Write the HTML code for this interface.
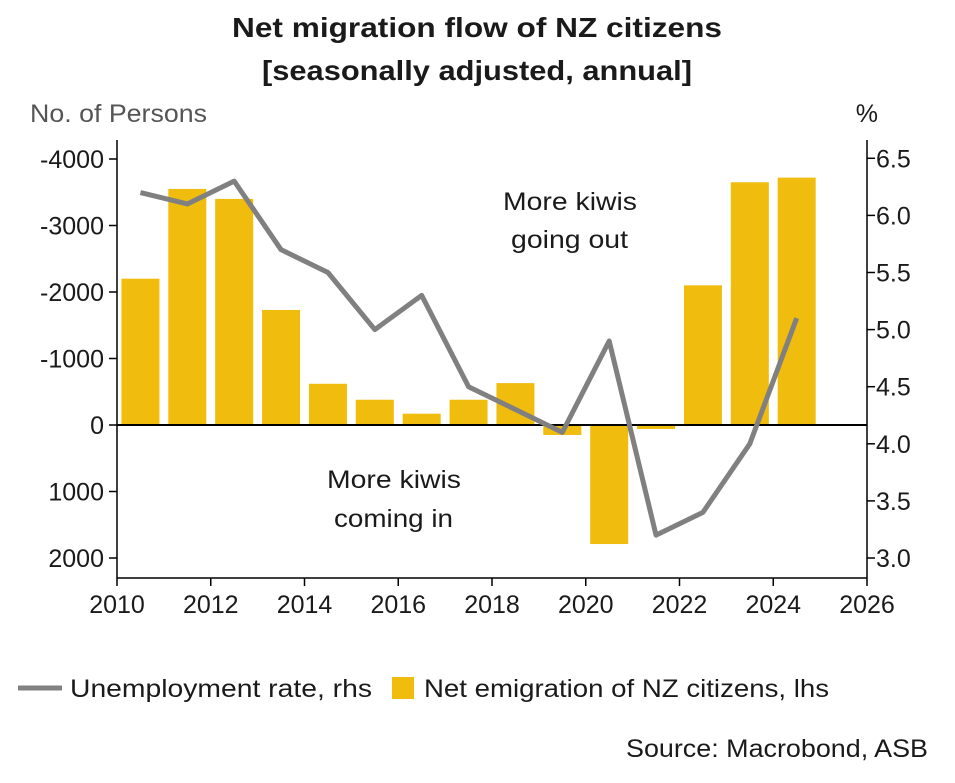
<!DOCTYPE html>
<html><head><meta charset="utf-8"><style>
body{margin:0;background:#fff;}
svg text{font-family:"Liberation Sans","DejaVu Sans",sans-serif;fill:#1a1a1a;}
</style></head><body>
<svg width="955" height="778" viewBox="0 0 955 778" id="c">
<text x="232" y="37" font-size="28" font-weight="bold" textLength="490" lengthAdjust="spacingAndGlyphs">Net migration flow of NZ citizens</text>
<text x="262" y="80" font-size="28" font-weight="bold" textLength="430" lengthAdjust="spacingAndGlyphs">[seasonally adjusted, annual]</text>
<text x="30" y="122" font-size="25" textLength="177" lengthAdjust="spacingAndGlyphs" style="fill:#555">No. of Persons</text>
<text x="878" y="122" text-anchor="end" font-size="25">%</text>
<g id="g"></g>
<text x="503" y="210" font-size="25" textLength="134" lengthAdjust="spacingAndGlyphs">More kiwis</text>
<text x="511" y="248" font-size="25" textLength="117" lengthAdjust="spacingAndGlyphs">going out</text>
<text x="327" y="488" font-size="25" textLength="134" lengthAdjust="spacingAndGlyphs">More kiwis</text>
<text x="334" y="527" font-size="25" textLength="119" lengthAdjust="spacingAndGlyphs">coming in</text>
<line x1="18" y1="688" x2="62" y2="688" stroke="#808080" stroke-width="5"/>
<text x="70" y="697" font-size="25" textLength="302" lengthAdjust="spacingAndGlyphs">Unemployment rate, rhs</text>
<rect x="392" y="677" width="22" height="22" fill="#F0BC0E"/>
<text x="424" y="697" font-size="25" textLength="405" lengthAdjust="spacingAndGlyphs">Net emigration of NZ citizens, lhs</text>
<text x="626" y="757" font-size="25" textLength="302" lengthAdjust="spacingAndGlyphs">Source: Macrobond, ASB</text>
</svg>
<script>
const years=[2010,2011,2012,2013,2014,2015,2016,2017,2018,2019,2020,2021,2022,2023,2024];
const emigration=[2200,3550,3400,1730,620,380,170,380,630,-150,-1790,-60,2100,3650,3720];
const unemployment=[6.2,6.1,6.3,5.7,5.5,5.0,5.3,4.5,4.3,4.1,4.9,3.2,3.4,4.0,5.1];
const xTicks=[2010,2012,2014,2016,2018,2020,2022,2024,2026];
const lTicks=[-4000,-3000,-2000,-1000,0,1000,2000];
const rTicks=[6.5,6.0,5.5,5.0,4.5,4.0,3.5,3.0];
const NS="http://www.w3.org/2000/svg";
const g=document.getElementById('g');
const X=y=>117+(y-2010)*(867-117)/16;
function yl(v){return 425-v*0.0665;}
function yr(v){return 558-(v-3.0)*114.2;}
function el(t,a){const e=document.createElementNS(NS,t);for(const k in a)e.setAttribute(k,a[k]);g.appendChild(e);return e;}
years.forEach((yr_,i)=>{
 const v=emigration[i];const cx=X(yr_+0.5);
 const y0=yl(0),y1=yl(v);
 const r=el('rect',{x:cx-19,y:Math.min(y0,y1),width:38,height:Math.abs(y1-y0),fill:'#F0BC0E'});
 
 
});
let ax=el('line',{x1:117,y1:425,x2:867,y2:425,stroke:'#000','stroke-width':2});


const pts=years.map((y,i)=>X(y+0.5)+','+yr(unemployment[i])).join(' ');
const pl=el('polyline',{points:pts,fill:'none',stroke:'#808080','stroke-width':5,'stroke-linejoin':'round'});


let a1=el('line',{x1:117,y1:140,x2:117,y2:578,stroke:'#000','stroke-width':1.5});


let a2=el('line',{x1:867,y1:140,x2:867,y2:578,stroke:'#000','stroke-width':1.5});


let a3=el('line',{x1:117,y1:578,x2:867,y2:578,stroke:'#000','stroke-width':1.5});


xTicks.forEach(t=>{
 el('line',{x1:X(t),y1:578,x2:X(t),y2:586,stroke:'#000','stroke-width':1.5});
 const tx=el('text',{x:X(t),y:613,'text-anchor':'middle','font-size':25});tx.textContent=t;
 
 
});
lTicks.forEach(t=>{
 el('line',{x1:109,y1:yl(-t),x2:117,y2:yl(-t),stroke:'#000','stroke-width':1.5});
 const tx=el('text',{x:104,y:yl(-t)+9,'text-anchor':'end','font-size':25});tx.textContent=t;
 
 
});
rTicks.forEach(t=>{
 el('line',{x1:867,y1:yr(t),x2:875,y2:yr(t),stroke:'#000','stroke-width':1.5});
 const tx=el('text',{x:876,y:yr(t)+9,'font-size':25});tx.textContent=t.toFixed(1);
 
 
});
</script>
</body></html>
